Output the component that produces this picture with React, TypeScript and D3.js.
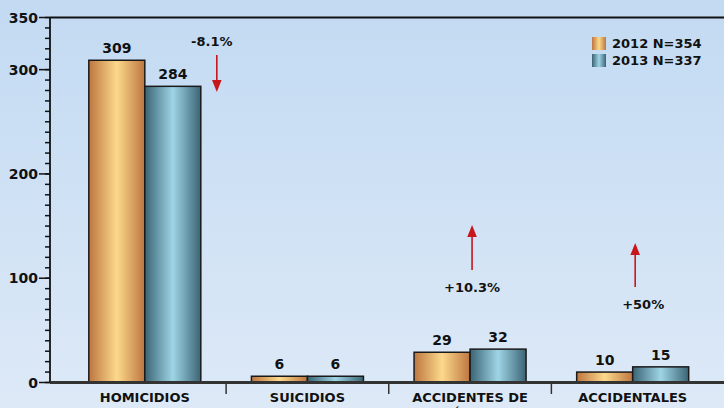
import React from "react";
import * as d3 from "d3";

const categories = ["HOMICIDIOS", "SUICIDIOS", "ACCIDENTES DE", "ACCIDENTALES"];
const categorySecondLine = ["", "", "TRÁNSITO", ""];
const series = ["2012 N=354", "2013 N=337"];
const values2012 = [309, 6, 29, 10];
const values2013 = [284, 6, 32, 15];
const changeLabels = ["-8.1%", "", "+10.3%", "+50%"];
const yMajorTicks = [0, 100, 200, 300, 350];

const W = 724;
const H = 408;
const FONT = "'DejaVu Sans', Verdana, sans-serif";

// layout for the change annotations (pixel offsets, not data)
const annotLayout = [
  { ax: 72, tx: 67, y1: 55, y2: 92, ty: 46, up: false },
  null,
  { ax: 2, tx: 2, y1: 270, y2: 225, ty: 292, up: true },
  { ax: 2.5, tx: 10.5, y1: 287, y2: 243, ty: 309, up: true },
];

export default function App() {
  const y = d3.scaleLinear().domain([0, 350]).range([382.5, 17.5]);
  const x = d3.scaleBand<string>().domain(categories).range([63.5, 714]).padding(0);
  const inner = d3.scaleBand<string>().domain(series).range([0, 112]).padding(0);
  const minor = d3.range(0, 351, 10);
  const seriesVals = [values2012, values2013];
  const grads = ["gOrange", "gTeal"];
  const red = "#c8161d";

  return (
    <svg
      width={W}
      height={H}
      style={{ position: "fixed", left: 0, top: 0 }}
      fontFamily={FONT}
    >
      <defs>
        <linearGradient id="bg" x1="0" y1="0" x2="0" y2="1">
          <stop offset="0" stopColor="#c2daf2" />
          <stop offset="1" stopColor="#dde9f7" />
        </linearGradient>
        <linearGradient id="gOrange" x1="0" y1="0" x2="1" y2="0">
          <stop offset="0" stopColor="#bd7640" />
          <stop offset="0.5" stopColor="#fcd98b" />
          <stop offset="1" stopColor="#bd7640" />
        </linearGradient>
        <linearGradient id="gTeal" x1="0" y1="0" x2="1" y2="0">
          <stop offset="0" stopColor="#3b6474" />
          <stop offset="0.5" stopColor="#9ed5e6" />
          <stop offset="1" stopColor="#3b6474" />
        </linearGradient>
      </defs>
      <rect x={0} y={0} width={W} height={H} fill="url(#bg)" />

      {/* top frame line */}
      <line x1={50} x2={W} y1={y(350)} y2={y(350)} stroke="#111" strokeWidth={1.8} />

      {/* y axis */}
      <line x1={50} x2={50} y1={y(350)} y2={y(0)} stroke="#111" strokeWidth={1.8} />
      {minor.map((v) => (
        <line key={"m" + v} x1={45} x2={50} y1={y(v)} y2={y(v)} stroke="#111" strokeWidth={1.5} />
      ))}
      {yMajorTicks.map((v) => (
        <g key={"t" + v}>
          <line x1={39} x2={50} y1={y(v)} y2={y(v)} stroke="#111" strokeWidth={1.5} />
          <text x={38} y={y(v)} dy="0.36em" textAnchor="end" fontSize={14} fontWeight="bold" fill="#111">
            {v}
          </text>
        </g>
      ))}

      {/* bars */}
      {categories.map((c, i) => (
        <g key={c}>
          {series.map((s, k) => {
            const v = seriesVals[k][i];
            const bx = (x(c) as number) + x.bandwidth() / 2 - 56 + (inner(s) as number);
            return (
              <g key={s}>
                <rect
                  x={bx}
                  y={y(v)}
                  width={inner.bandwidth()}
                  height={y(0) - y(v)}
                  fill={`url(#${grads[k]})`}
                  stroke="#1a1a1a"
                  strokeWidth={1.5}
                />
                <text
                  x={bx + inner.bandwidth() / 2}
                  y={y(v) - 7}
                  textAnchor="middle"
                  fontSize={14}
                  fontWeight="bold"
                  fill="#111"
                >
                  {v}
                </text>
              </g>
            );
          })}
        </g>
      ))}

      {/* x axis */}
      <line x1={50} x2={W} y1={y(0)} y2={y(0)} stroke="#333" strokeWidth={3} />
      {categories.slice(1).map((c) => (
        <line key={"s" + c} x1={x(c)} x2={x(c)} y1={y(0)} y2={394} stroke="#333" strokeWidth={1.5} />
      ))}
      {categories.map((c, i) => {
        const cx = (x(c) as number) + x.bandwidth() / 2;
        return (
          <g key={"l" + c}>
            <text x={cx} y={402} textAnchor="middle" fontSize={13} fontWeight="bold" fill="#111">
              {c}
            </text>
            {categorySecondLine[i] && (
              <text x={cx} y={418} textAnchor="middle" fontSize={13} fontWeight="bold" fill="#111">
                {categorySecondLine[i]}
              </text>
            )}
          </g>
        );
      })}

      {/* change annotations */}
      {categories.map((c, i) => {
        const L = annotLayout[i];
        if (!L || !changeLabels[i]) return null;
        const cx = (x(c) as number) + x.bandwidth() / 2;
        const ax = cx + L.ax;
        const dir = L.up ? 1 : -1;
        const headBase = L.y2 + dir * 12;
        return (
          <g key={"a" + c}>
            <line x1={ax} x2={ax} y1={L.y1} y2={headBase} stroke={red} strokeWidth={1.6} />
            <path
              d={`M${ax},${L.y2} L${ax - 4.8},${headBase} L${ax + 4.8},${headBase} Z`}
              fill={red}
            />
            <text x={cx + L.tx} y={L.ty} textAnchor="middle" fontSize={13} fontWeight="bold" fill="#111">
              {changeLabels[i]}
            </text>
          </g>
        );
      })}

      {/* legend */}
      {series.map((s, k) => (
        <g key={"lg" + s} transform={`translate(592, ${37 + k * 17})`}>
          <rect x={0} y={0} width={14} height={13} fill={`url(#${grads[k]})`} />
          <text x={20} y={11} fontSize={13} fontWeight="bold" fill="#111">
            {s}
          </text>
        </g>
      ))}
    </svg>
  );
}
